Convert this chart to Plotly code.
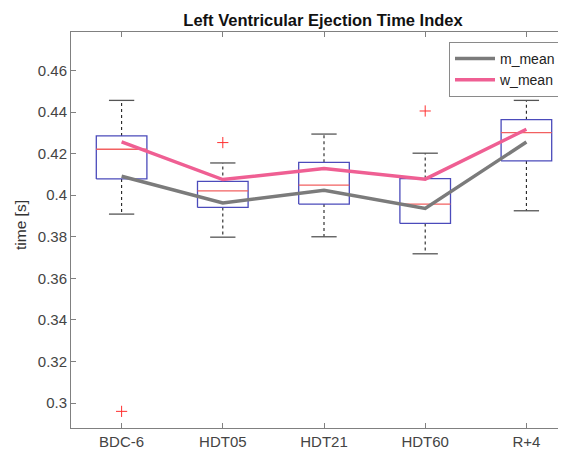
import plotly.graph_objects as go

# ---- data ----
categories = ["BDC-6", "HDT05", "HDT21", "HDT60", "R+4"]
upper_whisker = [0.4456, 0.4155, 0.4294, 0.4202, 0.4456]
q3 = [0.4285, 0.4066, 0.4158, 0.4080, 0.4363]
median = [0.4221, 0.4021, 0.4048, 0.3957, 0.4301]
q1 = [0.4078, 0.3941, 0.3957, 0.3864, 0.4165]
lower_whisker = [0.3909, 0.3798, 0.3800, 0.3718, 0.3925]
outlier_cat = ["BDC-6", "HDT05", "HDT60"]
outlier_val = [0.296, 0.4253, 0.4405]
m_mean = [0.4091, 0.3963, 0.4024, 0.3936, 0.4256]
w_mean = [0.4256, 0.4075, 0.4128, 0.4077, 0.4317]
y_tick_vals = [0.30, 0.32, 0.34, 0.36, 0.38, 0.40, 0.42, 0.44, 0.46]
y_tick_text = ["0.3", "0.32", "0.34", "0.36", "0.38", "0.4", "0.42", "0.44", "0.46"]

pos = list(range(1, len(categories) + 1))
cat_pos = dict(zip(categories, pos))
BOX_HALF = 0.25
CAP_HALF = 0.125

# box outlines
bx, by = [], []
for p, lo, hi in zip(pos, q1, q3):
    bx += [p - BOX_HALF, p + BOX_HALF, p + BOX_HALF, p - BOX_HALF, p - BOX_HALF, None]
    by += [lo, lo, hi, hi, lo, None]
# medians
mx, my = [], []
for p, m in zip(pos, median):
    mx += [p - BOX_HALF, p + BOX_HALF, None]
    my += [m, m, None]
# whiskers (dashed)
wx, wy = [], []
for p, lo, hi, lw, uw in zip(pos, q1, q3, lower_whisker, upper_whisker):
    wx += [p, p, None, p, p, None]
    wy += [hi, uw, None, lo, lw, None]
# caps
cx, cy = [], []
for p, lw, uw in zip(pos, lower_whisker, upper_whisker):
    cx += [p - CAP_HALF, p + CAP_HALF, None, p - CAP_HALF, p + CAP_HALF, None]
    cy += [uw, uw, None, lw, lw, None]

fig = go.Figure()
fig.add_trace(go.Scatter(x=wx, y=wy, mode="lines", showlegend=False, hoverinfo="skip",
                         line=dict(color="#222222", width=1.1, dash="3px,3px")))
fig.add_trace(go.Scatter(x=cx, y=cy, mode="lines", showlegend=False, hoverinfo="skip",
                         line=dict(color="#555555", width=1.3)))
fig.add_trace(go.Scatter(x=bx, y=by, mode="lines", showlegend=False, hoverinfo="skip",
                         line=dict(color="#4b4bbb", width=1.3)))
fig.add_trace(go.Scatter(x=mx, y=my, mode="lines", showlegend=False, hoverinfo="skip",
                         line=dict(color="#f26060", width=1.3)))
fig.add_trace(go.Scatter(x=[cat_pos[c] for c in outlier_cat], y=outlier_val, mode="markers",
                         showlegend=False, hoverinfo="skip",
                         marker=dict(symbol="cross-thin", size=8,
                                     line=dict(color="#ff3030", width=1))))
fig.add_trace(go.Scatter(x=pos, y=m_mean, mode="lines", name="m_mean",
                         line=dict(color="#7b7b7b", width=3.5)))
fig.add_trace(go.Scatter(x=pos, y=w_mean, mode="lines", name="w_mean",
                         line=dict(color="#ef5f93", width=3.5)))

# page body has an 8px default margin; compensate so the plot lands where the reference is
OFF = 8
W, H = 566 - OFF, 453 - OFF
ml, mr, mt, mb = 71 - OFF, 0, 32 - OFF, 25
PW = W - ml - mr
PH = H - mt - mb

fig.update_layout(
    width=W, height=H,
    margin=dict(l=ml, r=mr, t=mt, b=mb),
    paper_bgcolor="white", plot_bgcolor="white",
    font=dict(family="Liberation Sans, Arial, sans-serif", color="#444444", size=15),
    title=dict(text="<b>Left Ventricular Ejection Time Index</b>",
               x=(323 - OFF) / W, xref="container", xanchor="center",
               y=1 - (20 - OFF) / H, yref="container", yanchor="middle",
               font=dict(size=16.5, color="#111111")),
    showlegend=True,
    legend=dict(x=(449 - 71) / PW, y=(428 - 42) / PH,
                xanchor="left", yanchor="top",
                bgcolor="white", bordercolor="#8a8a8a", borderwidth=1,
                font=dict(size=14, color="#222222"),
                tracegroupgap=0, itemwidth=40),
    xaxis=dict(range=[0.5, 0.5 + PW / 101.2],
               tickmode="array", tickvals=pos, ticktext=categories,
               ticks="inside", ticklen=5, tickcolor="#808080",
               showline=True, linecolor="#808080", linewidth=1, mirror="ticks",
               showgrid=False, zeroline=False,
               tickfont=dict(size=15, color="#444444")),
    yaxis=dict(range=[0.288, 0.4785],
               tickmode="array", tickvals=y_tick_vals, ticktext=y_tick_text,
               ticks="inside", ticklen=5, tickcolor="#808080",
               showline=True, linecolor="#808080", linewidth=1,
               showgrid=False, zeroline=False,
               tickfont=dict(size=15, color="#444444")),
    annotations=[dict(text="time [s]", textangle=-90, xref="paper", yref="paper",
                      x=(20 - 71) / PW, y=(428 - 225) / PH, xanchor="center", yanchor="middle",
                      showarrow=False, font=dict(size=15.5, color="#333333"))],
)

fig.write_html("out.html")
